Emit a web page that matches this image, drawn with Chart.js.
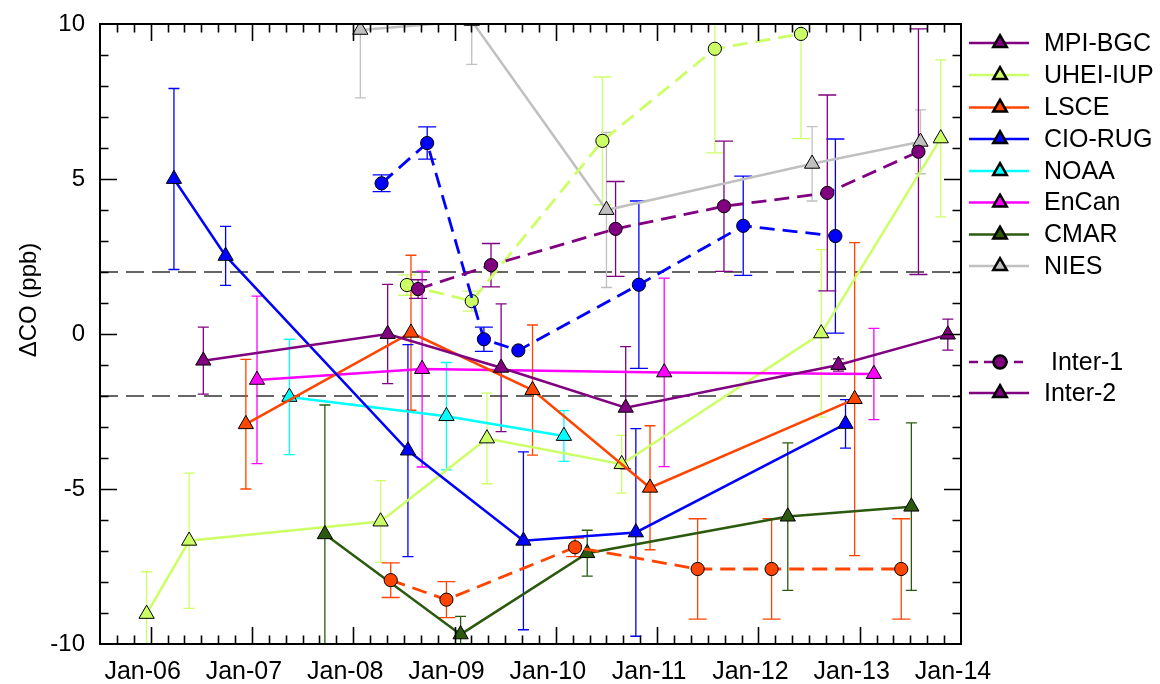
<!DOCTYPE html>
<html>
<head>
<meta charset="utf-8">
<script src="https://cdn.jsdelivr.net/npm/chart.js@4.4.1/dist/chart.umd.min.js"></script>
<style>
  html, body { margin: 0; padding: 0; background: #ffffff; }
  #wrap { width: 1160px; height: 684px; }
</style>
</head>
<body>
<div id="wrap"><canvas id="chart" width="1160" height="684"></canvas></div>
<script>
// ---- Axis ticks ----
const X_TICK_YEARS = [2006, 2007, 2008, 2009, 2010, 2011, 2012, 2013, 2014];
const X_TICK_LABELS = ['Jan-06', 'Jan-07', 'Jan-08', 'Jan-09', 'Jan-10', 'Jan-11', 'Jan-12', 'Jan-13', 'Jan-14'];
const Y_TICK_VALUES = [-10, -5, 0, 5, 10];
const REFERENCE_LEVELS = [2, -2];

// ---- Inter-2 (solid lines, triangles): decimal year, ΔCO (ppb), ± uncertainty ----
const MPI_BGC_DATES  = [2006.52, 2008.34, 2009.46, 2010.69, 2012.79, 2013.87];
const MPI_BGC_VALUES = [-0.86, 0.00, -1.09, -2.38, -1.00, -0.02];
const MPI_BGC_ERRORS = [1.08, 1.60, 2.06, 1.97, 0.20, 0.50];

const UHEI_IUP_DATES  = [2005.96, 2006.38, 2008.27, 2009.32, 2010.65, 2012.62, 2013.80];
const UHEI_IUP_VALUES = [-9.03, -6.67, -6.05, -3.37, -4.20, 0.02, 6.31];
const UHEI_IUP_ERRORS = [1.36, 2.18, 1.32, 1.46, 0.93, 2.70, 2.53];

const LSCE_DATES  = [2006.94, 2008.57, 2009.77, 2010.93, 2012.95];
const LSCE_VALUES = [-2.91, 0.04, -1.81, -4.96, -2.10];
const LSCE_ERRORS = [2.09, 2.50, 2.10, 2.00, 5.05];

const CIO_RUG_DATES  = [2006.23, 2006.74, 2008.54, 2009.68, 2010.79, 2012.86];
const CIO_RUG_VALUES = [5.00, 2.52, -3.76, -6.67, -6.40, -2.90];
const CIO_RUG_ERRORS = [2.92, 0.95, 3.42, 2.87, 3.35, 0.78];

const NOAA_DATES  = [2007.37, 2008.92, 2010.08];
const NOAA_VALUES = [-2.03, -2.65, -3.29];
const NOAA_ERRORS = [1.86, 1.73, 0.82];

const ENCAN_DATES  = [2007.05, 2008.68, 2011.07, 2013.14];
const ENCAN_VALUES = [-1.48, -1.13, -1.24, -1.29];
const ENCAN_ERRORS = [2.70, 3.16, 3.04, 1.47];

const CMAR_DATES  = [2007.72, 2009.06, 2010.31, 2012.29, 2013.51];
const CMAR_VALUES = [-6.46, -9.69, -7.07, -5.89, -5.57];
const CMAR_ERRORS = [4.17, 0.58, 0.74, 2.38, 2.70];

const NIES_DATES  = [2008.07, 2009.17, 2010.50, 2012.53, 2013.60];
const NIES_VALUES = [9.81, 10.10, 4.00, 5.49, 6.20];
const NIES_ERRORS = [2.19, 1.40, 2.50, 1.20, 1.03];

// ---- Inter-1 (dashed lines, circles) ----
const MPI_BGC_I1_DATES  = [2008.64, 2009.36, 2010.59, 2011.66, 2012.68, 2013.58];
const MPI_BGC_I1_VALUES = [1.45, 2.22, 3.39, 4.12, 4.55, 5.88];
const MPI_BGC_I1_ERRORS = [0.30, 0.70, 1.53, 2.10, 3.16, 3.96];

const UHEI_IUP_I1_DATES  = [2008.53, 2009.17, 2010.46, 2011.57, 2012.42];
const UHEI_IUP_I1_VALUES = [1.58, 1.06, 6.23, 9.20, 9.68];
const UHEI_IUP_I1_ERRORS = [0.33, 0.32, 2.06, 3.36, 3.38];

const LSCE_I1_DATES  = [2008.37, 2008.92, 2010.19, 2011.40, 2012.13, 2013.41];
const LSCE_I1_VALUES = [-7.94, -8.57, -6.88, -7.58, -7.58, -7.58];
const LSCE_I1_ERRORS = [0.56, 0.58, 0.30, 1.62, 1.62, 1.62];

const CIO_RUG_I1_DATES  = [2008.28, 2008.73, 2009.29, 2009.63, 2010.82, 2011.85, 2012.76];
const CIO_RUG_I1_VALUES = [4.86, 6.16, -0.17, -0.53, 1.59, 3.49, 3.16];
const CIO_RUG_I1_ERRORS = [0.27, 0.52, 0.39, 0.00, 2.70, 1.60, 3.13];

// ---- Styles ----
const COLOR = {
  'MPI-BGC': '#800080',
  'UHEI-IUP': '#ccff66',
  'LSCE': '#ff4500',
  'CIO-RUG': '#0000ff',
  'NOAA': '#00ffff',
  'EnCan': '#ff00ff',
  'CMAR': '#2b5a0e',
  'NIES': '#c0c0c0'
};
const FONT = "'Liberation Sans', Arial, sans-serif";

function series(name, dates, values, errors, inter1) {
  return {
    label: name + (inter1 ? ' Inter-1' : ''),
    data: dates.map((d, i) => ({ x: d, y: values[i] })),
    errors: errors,
    inter1: inter1,
    borderColor: COLOR[name],
    backgroundColor: COLOR[name],
    borderWidth: inter1 ? 2.8 : 2.5,
    borderDash: inter1 ? [15, 8] : [],
    pointStyle: inter1 ? 'circle' : 'triangle',
    pointRadius: inter1 ? 6.6 : 8.8,
    pointBackgroundColor: COLOR[name],
    pointBorderColor: '#000000',
    pointBorderWidth: 1,
    tension: 0,
    fill: false
  };
}

// lower index is drawn on top
const datasets = [
  series('MPI-BGC', MPI_BGC_DATES, MPI_BGC_VALUES, MPI_BGC_ERRORS, false),
  series('MPI-BGC', MPI_BGC_I1_DATES, MPI_BGC_I1_VALUES, MPI_BGC_I1_ERRORS, true),
  series('CIO-RUG', CIO_RUG_DATES, CIO_RUG_VALUES, CIO_RUG_ERRORS, false),
  series('CIO-RUG', CIO_RUG_I1_DATES, CIO_RUG_I1_VALUES, CIO_RUG_I1_ERRORS, true),
  series('LSCE', LSCE_DATES, LSCE_VALUES, LSCE_ERRORS, false),
  series('LSCE', LSCE_I1_DATES, LSCE_I1_VALUES, LSCE_I1_ERRORS, true),
  series('EnCan', ENCAN_DATES, ENCAN_VALUES, ENCAN_ERRORS, false),
  series('NOAA', NOAA_DATES, NOAA_VALUES, NOAA_ERRORS, false),
  series('CMAR', CMAR_DATES, CMAR_VALUES, CMAR_ERRORS, false),
  series('UHEI-IUP', UHEI_IUP_DATES, UHEI_IUP_VALUES, UHEI_IUP_ERRORS, false),
  series('UHEI-IUP', UHEI_IUP_I1_DATES, UHEI_IUP_I1_VALUES, UHEI_IUP_I1_ERRORS, true),
  series('NIES', NIES_DATES, NIES_VALUES, NIES_ERRORS, false)
];

// Vertical error bars and the ±2 ppb reference lines, beneath the series
const underlayPlugin = {
  id: 'underlay',
  beforeDatasetsDraw(chart) {
    const { ctx, chartArea: a, scales: { x, y } } = chart;
    ctx.save();
    ctx.beginPath();
    ctx.rect(a.left, a.top, a.right - a.left, a.bottom - a.top);
    ctx.clip();

    ctx.strokeStyle = '#333333';
    ctx.lineWidth = 1.3;
    ctx.setLineDash([18, 8]);
    REFERENCE_LEVELS.forEach(v => {
      const py = y.getPixelForValue(v);
      ctx.beginPath();
      ctx.moveTo(a.left, py);
      ctx.lineTo(a.right, py);
      ctx.stroke();
    });
    ctx.setLineDash([]);

    ctx.lineWidth = 1.3;
    for (let di = chart.data.datasets.length - 1; di >= 0; di--) {
      const ds = chart.data.datasets[di];
      const half = ds.inter1 ? 9 : 5.5;
      ctx.strokeStyle = ds.borderColor;
      ds.data.forEach((p, i) => {
        const e = ds.errors[i];
        if (!e) return;
        const px = x.getPixelForValue(p.x);
        const top = y.getPixelForValue(p.y + e);
        const bot = y.getPixelForValue(p.y - e);
        ctx.beginPath();
        ctx.moveTo(px, top); ctx.lineTo(px, bot);
        ctx.moveTo(px - half, top); ctx.lineTo(px + half, top);
        ctx.moveTo(px - half, bot); ctx.lineTo(px + half, bot);
        ctx.stroke();
      });
    }
    ctx.restore();
  }
};

// Frame with inward tick marks, y-axis title and the legend
const overlayPlugin = {
  id: 'overlay',
  afterDraw(chart) {
    const { ctx, chartArea: a, scales: { x, y } } = chart;
    ctx.save();
    ctx.strokeStyle = '#000000';

    // tick marks: majors at each January, minors every two months / every 1 ppb
    ctx.lineWidth = 1.6;
    ctx.beginPath();
    for (let k = 1; k < 51; k++) {
      const v = x.min + k / 6;
      const px = Math.round(x.getPixelForValue(v)) + 0.5;
      const major = Math.abs(v - Math.round(v)) < 1e-6;
      const len = major ? 17 : 8.5;
      ctx.moveTo(px, a.bottom); ctx.lineTo(px, a.bottom - len);
      ctx.moveTo(px, a.top); ctx.lineTo(px, a.top + len);
    }
    for (let v = y.min + 1; v < y.max; v++) {
      const py = Math.round(y.getPixelForValue(v)) + 0.5;
      const len = v % 5 === 0 ? 17 : 8.5;
      ctx.moveTo(a.left, py); ctx.lineTo(a.left + len, py);
      ctx.moveTo(a.right, py); ctx.lineTo(a.right - len, py);
    }
    ctx.stroke();

    // frame
    ctx.lineWidth = 2;
    ctx.strokeRect(a.left, a.top, a.right - a.left, a.bottom - a.top);

    // y-axis title
    ctx.fillStyle = '#000000';
    ctx.font = '24px ' + FONT;
    ctx.textAlign = 'center';
    ctx.textBaseline = 'middle';
    ctx.translate(29, 300);
    ctx.rotate(-Math.PI / 2);
    ctx.fillText('ΔCO (ppb)', 0, 0);
    ctx.restore();

    // legend
    ctx.save();
    const lx0 = 969, lx1 = 1029, mx = 1000, tx = 1044;
    const rowY = [43, 75, 107.5, 139, 171, 202.5, 234.5, 266];
    const names = Object.keys(COLOR);
    ctx.font = '25px ' + FONT;
    ctx.textAlign = 'left';
    ctx.textBaseline = 'middle';
    const entry = (label, color, yy, dashed) => {
      ctx.strokeStyle = color;
      ctx.lineWidth = 2.5;
      ctx.setLineDash(dashed ? [9, 6] : []);
      ctx.beginPath();
      ctx.moveTo(lx0, yy); ctx.lineTo(lx1, yy);
      ctx.stroke();
      ctx.setLineDash([]);
      ctx.fillStyle = color;
      ctx.strokeStyle = '#000000';
      Chart.helpers.drawPoint(ctx, {
        pointStyle: dashed ? 'circle' : 'triangle',
        radius: dashed ? 6.5 : 7.8,
        rotation: 0,
        borderWidth: 1
      }, mx, yy);
      ctx.fillStyle = '#000000';
      ctx.fillText(label, tx, yy + 1);
    };
    names.forEach((n, i) => entry(n, COLOR[n], rowY[i], false));
    entry(' Inter-1', COLOR['MPI-BGC'], 362, true);
    entry('Inter-2', COLOR['MPI-BGC'], 393, false);
    ctx.restore();
  }
};

new Chart(document.getElementById('chart'), {
  type: 'line',
  data: { datasets: datasets },
  plugins: [underlayPlugin, overlayPlugin],
  options: {
    responsive: false,
    devicePixelRatio: 1,
    animation: false,
    events: [],
    layout: { padding: { top: 24, right: 199, left: 0, bottom: 0 } },
    plugins: { legend: { display: false }, tooltip: { enabled: false } },
    scales: {
      x: {
        type: 'linear',
        min: 2005.5,
        max: 2014,
        grid: { display: false, drawTicks: false },
        border: { display: false },
        afterBuildTicks: (scale) => { scale.ticks = X_TICK_YEARS.map(v => ({ value: v })); },
        afterFit: (scale) => {
          scale.height = 40;
          scale.paddingLeft = 0; scale.paddingRight = 0;
          scale.paddingTop = 0; scale.paddingBottom = 0;
        },
        ticks: {
          autoSkip: false,
          maxRotation: 0,
          padding: 13,
          labelOffset: -8,
          color: '#000000',
          font: { family: FONT, size: 25 },
          callback: (v) => X_TICK_LABELS[X_TICK_YEARS.indexOf(v)]
        }
      },
      y: {
        type: 'linear',
        min: -10,
        max: 10,
        grid: { display: false, drawTicks: false },
        border: { display: false },
        afterBuildTicks: (scale) => { scale.ticks = Y_TICK_VALUES.map(v => ({ value: v })); },
        afterFit: (scale) => {
          scale.width = 100;
          scale.paddingLeft = 0; scale.paddingRight = 0;
          scale.paddingTop = 0; scale.paddingBottom = 0;
        },
        ticks: {
          padding: 15,
          color: '#000000',
          font: { family: FONT, size: 24 },
          callback: (v) => String(v)
        }
      }
    }
  }
});
</script>
</body>
</html>
